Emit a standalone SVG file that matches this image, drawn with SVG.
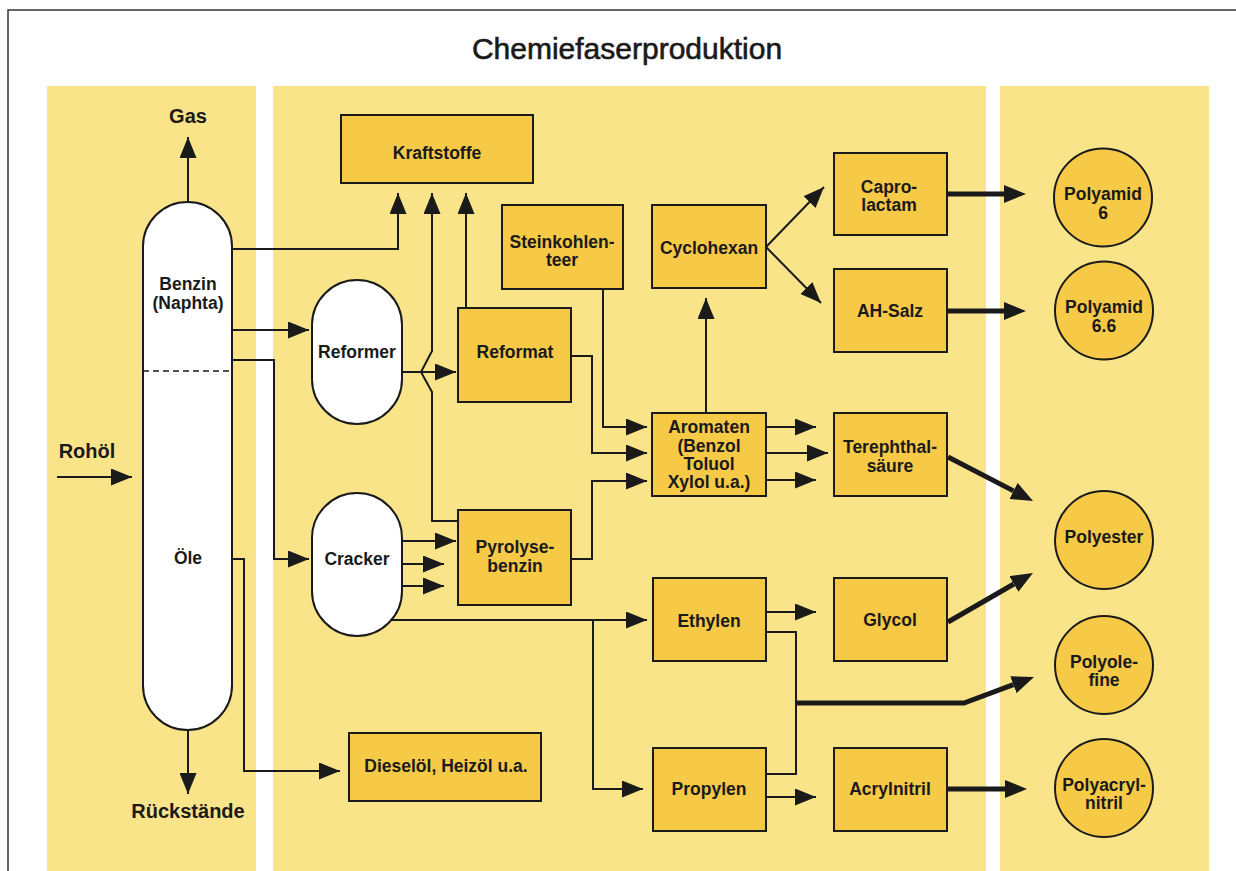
<svg xmlns="http://www.w3.org/2000/svg" width="1236" height="871" viewBox="0 0 1236 871">
<style>
.col{fill:#F9E48A}
.box{fill:#F6C947;stroke:#1a1a1a;stroke-width:2}
.cap{fill:#ffffff;stroke:#1a1a1a;stroke-width:2}
.ln{fill:none;stroke:#1a1a1a;stroke-width:2}
.thk{fill:none;stroke:#1a1a1a;stroke-width:5}
text{font-family:"Liberation Sans",Arial,sans-serif;font-weight:bold;font-size:17.5px;text-anchor:middle;fill:#1a1a1a}
.lg{font-size:20px}
.title{font-size:30px;font-weight:normal;stroke:#1a1a1a;stroke-width:0.6}
</style>
<defs>
<marker id="ah" viewBox="0 0 21 17" markerWidth="21" markerHeight="17" refX="21" refY="8.5" orient="auto" markerUnits="userSpaceOnUse"><path d="M0,0 L21,8.5 L0,17 z" fill="#1a1a1a"/></marker>
<marker id="ahb" viewBox="0 0 22 18" markerWidth="22" markerHeight="18" refX="0" refY="9" orient="auto" markerUnits="userSpaceOnUse"><path d="M0,0 L22,9 L0,18 z" fill="#1a1a1a"/></marker>
</defs>
<rect width="1236" height="871" fill="#ffffff"/>
<g id="frame">
<path d="M8,871 V10 H1236" fill="none" stroke="#333" stroke-width="1.5"/>
</g>
<g id="columns">
<rect class="col" x="47" y="86" width="209" height="785"/>
<rect class="col" x="273" y="86" width="713" height="785"/>
<rect class="col" x="1000" y="86" width="209" height="785"/>
</g>
<text class="title" x="627" y="59">Chemiefaserproduktion</text>

<g id="connectors">
<path class="ln" marker-end="url(#ah)" d="M188,202 V137"/>
<path class="ln" marker-end="url(#ah)" d="M188,730 V794"/>
<path class="ln" marker-end="url(#ah)" d="M57,477 H132"/>
<path class="ln" marker-end="url(#ah)" d="M232,249 H398 V193"/>
<path class="ln" marker-end="url(#ah)" d="M458,521 H432 V392 L421,372 L432,351 V193"/>
<path class="ln" marker-end="url(#ah)" d="M466,308 V193"/>
<path class="ln" marker-end="url(#ah)" d="M232,330 H309"/>
<path class="ln" marker-end="url(#ah)" d="M232,360 H274 V559 H309"/>
<path class="ln" marker-end="url(#ah)" d="M232,559 H244 V771 H340"/>
<path class="ln" marker-end="url(#ah)" d="M402,372 H456"/>
<path class="ln" marker-end="url(#ah)" d="M402,541 H456"/>
<path class="ln" marker-end="url(#ah)" d="M402,564 H444"/>
<path class="ln" marker-end="url(#ah)" d="M402,586 H444"/>
<path class="ln" marker-end="url(#ah)" d="M391,620 H647"/>
<path class="ln" marker-end="url(#ah)" d="M593,620 V789 H643"/>
<path class="ln" marker-end="url(#ah)" d="M603,289 V427 H647"/>
<path class="ln" marker-end="url(#ah)" d="M571,356 H592 V453 H647"/>
<path class="ln" marker-end="url(#ah)" d="M571,559 H592 V481 H647"/>
<path class="ln" marker-end="url(#ah)" d="M706,413 V298"/>
<path class="ln" marker-end="url(#ah)" d="M766,247 L824,187"/>
<path class="ln" marker-end="url(#ah)" d="M766,247 L821,303"/>
<path class="ln" marker-end="url(#ah)" d="M766,427 H816"/>
<path class="ln" marker-end="url(#ah)" d="M766,453 H828"/>
<path class="ln" marker-end="url(#ah)" d="M766,480 H816"/>
<path class="ln" marker-end="url(#ah)" d="M766,612 H816"/>
<path class="ln" marker-end="url(#ah)" d="M766,797 H816"/>
<path class="ln" d="M766,632 H796 V774 H766"/>
<path class="thk" marker-end="url(#ahb)" d="M947,194 H1004"/>
<path class="thk" marker-end="url(#ahb)" d="M947,311 H1004"/>
<path class="thk" marker-end="url(#ahb)" d="M948,457 L1013.5,490.9"/>
<path class="thk" marker-end="url(#ahb)" d="M948,622 L1013.9,584"/>
<path class="thk" marker-end="url(#ahb)" d="M796,703 H964 L1013.4,684.7"/>
<path class="thk" marker-end="url(#ahb)" d="M947,789 H1005"/>
</g>

<g id="tower">
<rect class="cap" x="143" y="202" width="89" height="528" rx="44.5" ry="44.5"/>
<line x1="143" y1="371" x2="232" y2="371" stroke="#1a1a1a" stroke-width="1.5" stroke-dasharray="6,4"/>
<text x="188" y="290">Benzin</text>
<text x="188" y="309">(Naphta)</text>
<text x="188" y="564">Öle</text>
</g>
<g id="gas"><text class="lg" x="188" y="123">Gas</text></g>
<g id="rohoel"><text class="lg" x="87" y="458">Rohöl</text></g>
<g id="rueckstaende"><text class="lg" x="188" y="818">Rückstände</text></g>

<g id="kraftstoffe"><rect class="box" x="341" y="115" width="192" height="68"/><text x="437" y="159">Kraftstoffe</text></g>
<g id="steinkohlenteer"><rect class="box" x="502" y="205" width="121" height="84"/><text x="562" y="248">Steinkohlen-</text><text x="562" y="266">teer</text></g>
<g id="reformer"><rect class="cap" x="312" y="280" width="90" height="144" rx="45" ry="45"/><text x="357" y="358">Reformer</text></g>
<g id="cracker"><rect class="cap" x="312" y="493" width="90" height="143" rx="45" ry="45"/><text x="357" y="565">Cracker</text></g>
<g id="reformat"><rect class="box" x="458" y="308" width="113" height="94"/><text x="515" y="358">Reformat</text></g>
<g id="pyrolysebenzin"><rect class="box" x="458" y="510" width="113" height="95"/><text x="515" y="553">Pyrolyse-</text><text x="515" y="572">benzin</text></g>
<g id="dieseloel"><rect class="box" x="349" y="733" width="192" height="68"/><text x="446" y="772">Dieselöl, Heizöl u.a.</text></g>
<g id="cyclohexan"><rect class="box" x="652" y="205" width="114" height="83"/><text x="709" y="254">Cyclohexan</text></g>
<g id="aromaten"><rect class="box" x="652" y="413" width="114" height="83"/><text x="709" y="433">Aromaten</text><text x="709" y="452">(Benzol</text><text x="709" y="470">Toluol</text><text x="709" y="488">Xylol u.a.)</text></g>
<g id="ethylen"><rect class="box" x="653" y="578" width="113" height="83"/><text x="709" y="627">Ethylen</text></g>
<g id="propylen"><rect class="box" x="653" y="748" width="113" height="83"/><text x="709" y="795">Propylen</text></g>
<g id="caprolactam"><rect class="box" x="834" y="153" width="113" height="82"/><text x="889" y="193">Capro-</text><text x="889" y="211">lactam</text></g>
<g id="ahsalz"><rect class="box" x="834" y="269" width="113" height="83"/><text x="890" y="317">AH-Salz</text></g>
<g id="terephthalsaeure"><rect class="box" x="834" y="413" width="113" height="83"/><text x="890" y="453">Terephthal-</text><text x="890" y="472">säure</text></g>
<g id="glycol"><rect class="box" x="834" y="578" width="113" height="83"/><text x="890" y="626">Glycol</text></g>
<g id="acrylnitril"><rect class="box" x="834" y="748" width="113" height="83"/><text x="890" y="795">Acrylnitril</text></g>

<g id="polyamid6"><circle class="box" cx="1103" cy="197.5" r="49"/><text x="1103" y="200">Polyamid</text><text x="1103" y="219">6</text></g>
<g id="polyamid66"><circle class="box" cx="1104" cy="310.5" r="49"/><text x="1104" y="313">Polyamid</text><text x="1104" y="332">6.6</text></g>
<g id="polyester"><circle class="box" cx="1104" cy="540" r="49"/><text x="1104" y="543">Polyester</text></g>
<g id="polyolefine"><circle class="box" cx="1104" cy="665" r="49"/><text x="1104" y="668">Polyole-</text><text x="1104" y="686">fine</text></g>
<g id="polyacrylnitril"><circle class="box" cx="1104" cy="788" r="49"/><text x="1104" y="791">Polyacryl-</text><text x="1104" y="809">nitril</text></g>
</svg>
